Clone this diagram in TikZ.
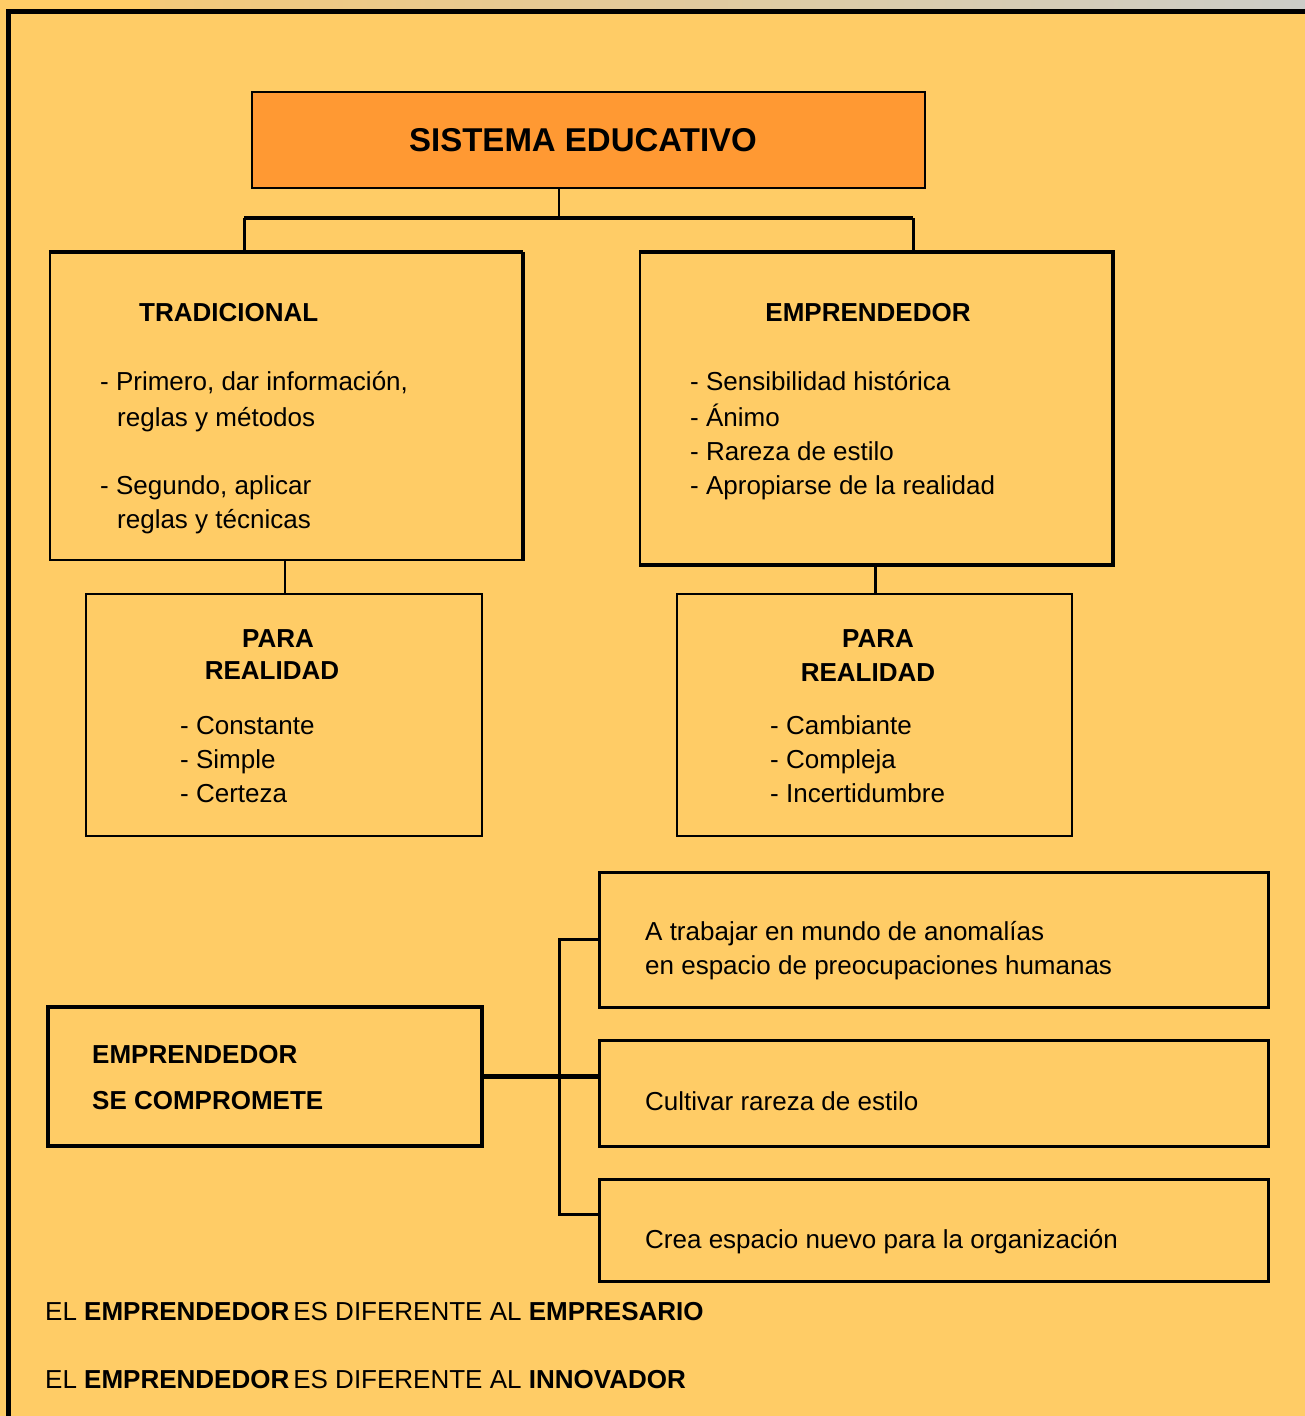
\documentclass[tikz,border=0pt]{standalone}
\usepackage{fontspec}
\setmainfont{Liberation Sans}
\definecolor{bg}{HTML}{FFCC66}
\definecolor{titleor}{HTML}{FF9933}
\definecolor{stripA}{HTML}{F4C979}
\definecolor{stripB}{HTML}{CCCCC8}
\begin{document}
\begin{tikzpicture}[x=1pt,y=-1pt,
  box/.style={draw=black,rectangle,inner sep=0pt,line width=2pt},
  txt/.style={inner sep=0pt,font=\fontsize{26}{30}\selectfont},
  hd/.style={inner sep=0pt,font=\fontsize{26}{30}\selectfont\bfseries},
  conn/.style={draw=black,line width=3pt}]
\clip (0,0) rectangle (1305,1416);
\useasboundingbox (0,0) rectangle (1305,1416);
\fill[bg] (0,0) rectangle (1305,1416);
\shade[left color=stripA,right color=stripB] (150,0) rectangle (1305,9);
\draw[line width=5pt] (8.5,1430) -- (8.5,11.5) -- (1320,11.5);

% title
\node[box,fill=titleor,minimum width=673,minimum height=96] (title) at (588.5,140) {};
\node[inner sep=0pt,font=\fontsize{33}{38}\selectfont\bfseries] (titletxt) at (583,140) {SISTEMA EDUCATIVO};

% upper boxes
\node[box,line width=2.5pt,minimum width=472,minimum height=307] (trad) at (286,406.5) {};
\draw[line width=4pt] (trad.north west) -- (trad.north east);
\draw[line width=3.5pt] (trad.north east) -- (trad.south east);
\node[box,minimum width=472,minimum height=311] (emp) at (876,408.5) {};
\draw[line width=4pt] (emp.north west) -- (emp.north east) -- (emp.south east) -- (emp.south west);

\node[hd,anchor=west] (tradh) at (139,313) {TRADICIONAL};
\node[txt,anchor=base west] (t1) at (100,390) {- Primero, dar información,};
\node[txt,anchor=base west] (t2) at (117,426) {reglas y métodos};
\node[txt,anchor=base west] (t3) at (100,494) {- Segundo, aplicar};
\node[txt,anchor=base west] (t4) at (117,528) {reglas y técnicas};

\node[hd] (emph) at (868,313) {EMPRENDEDOR};
\node[txt,anchor=base west] (e1) at (690,390) {- Sensibilidad histórica};
\node[txt,anchor=base west] (e2) at (690,426) {- Ánimo};
\node[txt,anchor=base west] (e3) at (690,460) {- Rareza de estilo};
\node[txt,anchor=base west] (e4) at (690,494) {- Apropiarse de la realidad};

% connectors top
\coordinate (j1) at (559,218);
\coordinate (bl) at (244,218);
\coordinate (br) at (913,218);
\draw[conn,line width=2.5pt] (title.south -| j1) -- (j1);
\draw[conn,line width=4pt] (bl) -- (br);
\draw[conn] (bl) -- (bl |- trad.north);
\draw[conn] (br) -- (br |- emp.north);

% PARA boxes
\node[box,minimum width=396,minimum height=242] (paraL) at (284,715) {};
\node[box,minimum width=395,minimum height=242] (paraR) at (874.5,715) {};
\coordinate (vl) at (285,0);
\coordinate (vr) at (875,0);
\draw[conn,line width=2pt] (vl |- trad.south) -- (vl |- paraL.north);
\draw[conn,line width=3pt] (vr |- emp.south) -- (vr |- paraR.north);

\node[hd] (pl1) at (278,639) {PARA};
\node[hd] (pl2) at (272,671) {REALIDAD};
\node[txt,anchor=base west] (pl3) at (180,734) {- Constante};
\node[txt,anchor=base west] (pl4) at (180,768) {- Simple};
\node[txt,anchor=base west] (pl5) at (180,802) {- Certeza};

\node[hd] (pr1) at (878,639) {PARA};
\node[hd] (pr2) at (868,673) {REALIDAD};
\node[txt,anchor=base west] (pr3) at (770,734) {- Cambiante};
\node[txt,anchor=base west] (pr4) at (770,768) {- Compleja};
\node[txt,anchor=base west] (pr5) at (770,802) {- Incertidumbre};

% lower part
\node[box,line width=3.5pt,minimum width=434,minimum height=139] (comp) at (265,1076.5) {};
\node[hd,anchor=west] (c1) at (92,1055) {EMPRENDEDOR};
\node[hd,anchor=west] (c2) at (92,1101) {SE COMPROMETE};

\node[box,line width=3pt,minimum width=669,minimum height=135] (boxA) at (933.5,939.5) {};
\node[box,line width=3pt,minimum width=669,minimum height=106] (boxB) at (933.5,1093) {};
\node[box,line width=3pt,minimum width=669,minimum height=102] (boxC) at (933.5,1230) {};
\node[txt,anchor=base west] (a1) at (645,940) {A trabajar en mundo de anomalías};
\node[txt,anchor=base west] (a2) at (645,974) {en espacio de preocupaciones humanas};
\node[txt,anchor=base west] (b1) at (645,1110) {Cultivar rareza de estilo};
\node[txt,anchor=base west] (cc1) at (645,1248) {Crea espacio nuevo para la organización};

\coordinate (cT) at (559,939.5);
\coordinate (cB) at (559,1214);
\draw[conn,line width=4.5pt] (comp.east) -- (comp.east -| boxB.west);
\draw[conn] (boxA.west) -- (cT) -- (cB) -- (cB -| boxC.west);

% bottom statements
\node[txt,anchor=base west] (s1) at (45,1320) {EL \textbf{EMPRENDEDOR}\hspace{4pt}ES DIFERENTE AL \textbf{EMPRESARIO}};
\node[txt,anchor=base west] (s2) at (45,1388) {EL \textbf{EMPRENDEDOR}\hspace{4pt}ES DIFERENTE AL \textbf{INNOVADOR}};
\end{tikzpicture}
\end{document}
